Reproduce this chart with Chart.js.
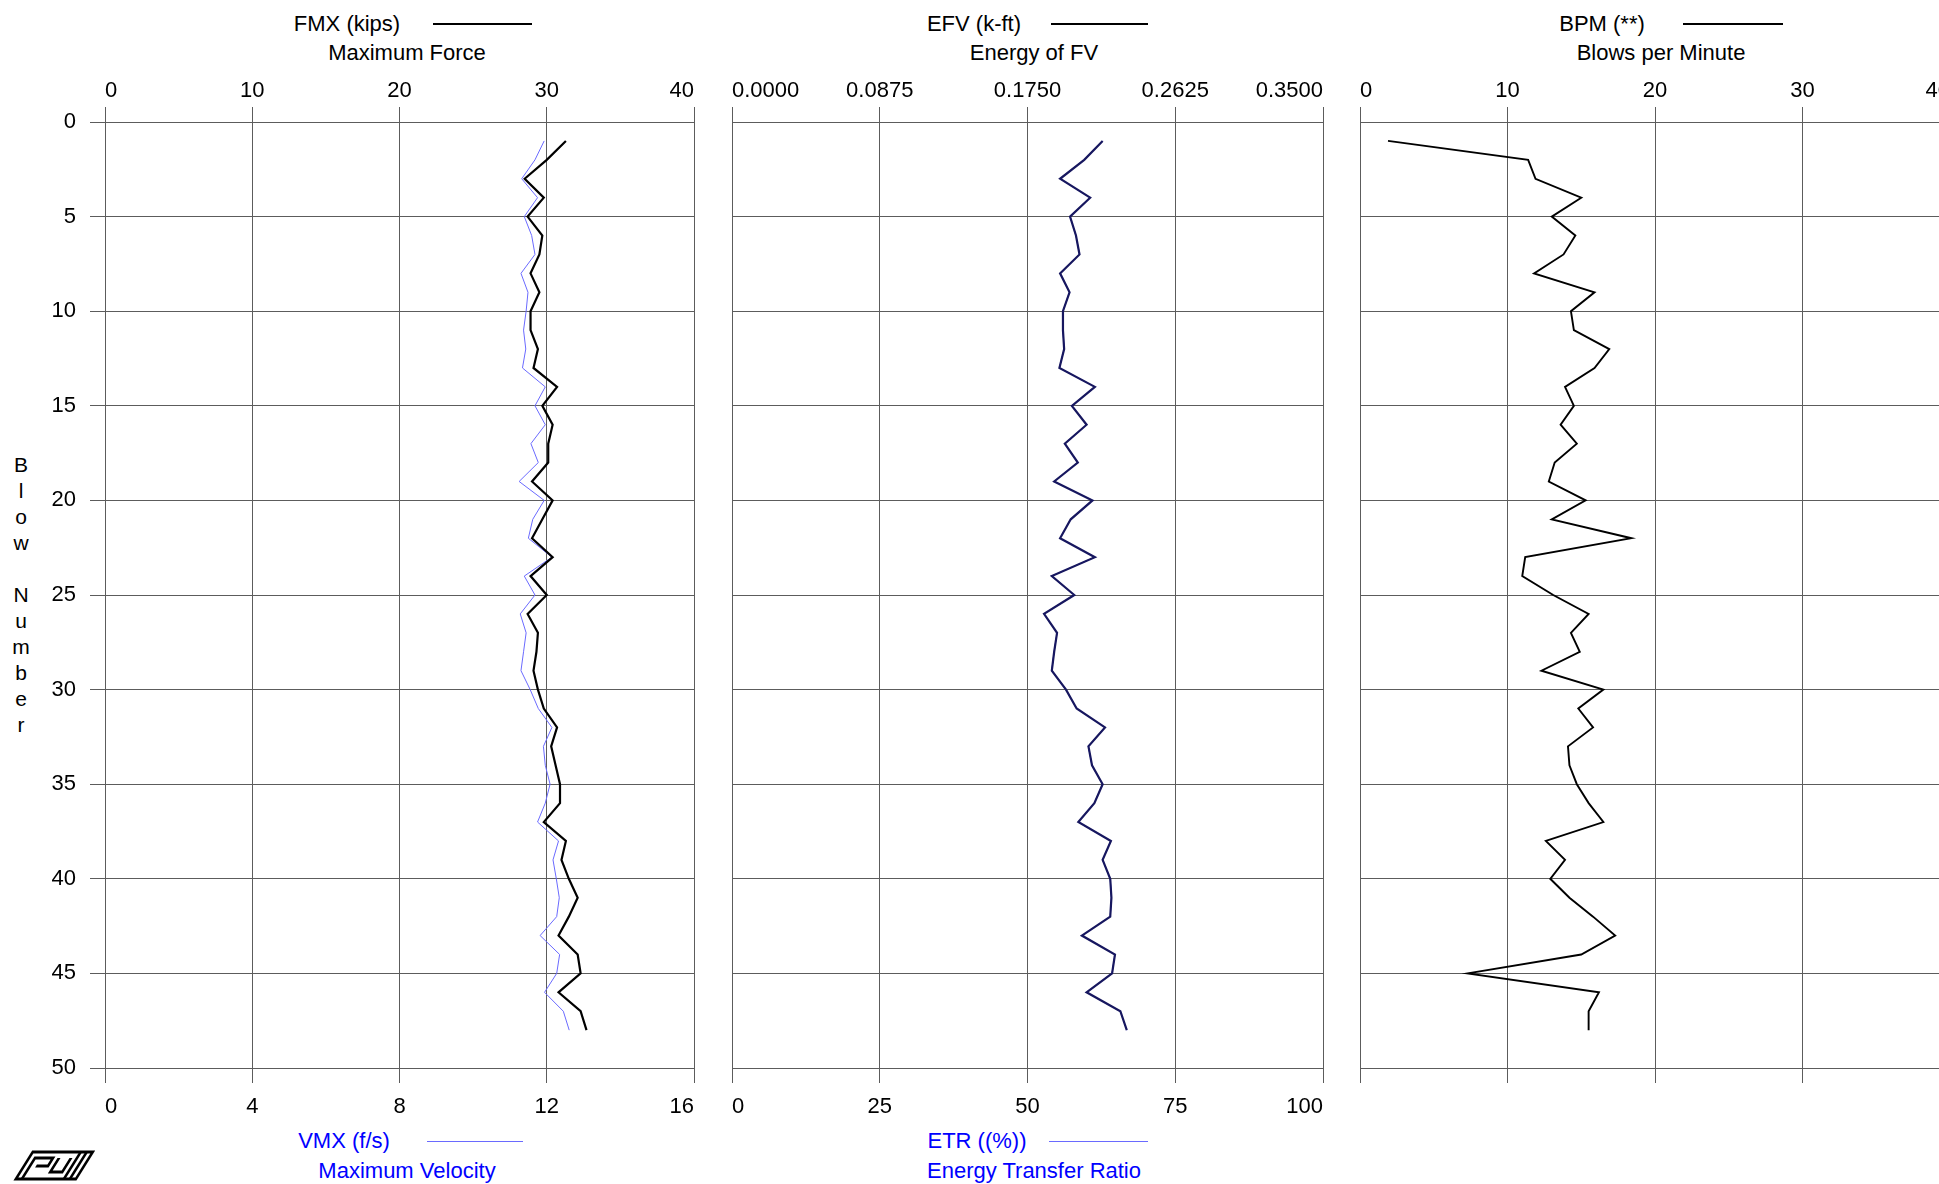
<!DOCTYPE html>
<html>
<head>
<meta charset="utf-8">
<script src="https://cdn.jsdelivr.net/npm/chart.js@4/dist/chart.umd.min.js"></script>
<style>
html, body { margin:0; padding:0; background:#fff; overflow:hidden; width:1939px; height:1184px; position:relative;
  font-family:"Liberation Sans", Arial, sans-serif; }
.panel { position:absolute; top:0; height:1184px; }
.txt { position:absolute; font-size:22px; white-space:nowrap; line-height:1; transform:translate(-50%,-50%); color:#000; }
.blue { color:#0000ff; }
.key { position:absolute; height:0; border-top:2px solid #000; }
.key.thin { border-top:1px solid #6a6aff; }
.ylab { position:absolute; left:21px; font-size:21px; line-height:26px; text-align:center; transform:translateX(-50%); top:452px; }
</style>
</head>
<body>

<!-- headers -->
<div class="txt" style="left:347px;top:24px">FMX (kips)</div>
<div class="key" style="left:433px;width:99px;top:23px"></div>
<div class="txt" style="left:407px;top:53px">Maximum Force</div>

<div class="txt" style="left:974px;top:24px">EFV (k-ft)</div>
<div class="key" style="left:1051px;width:97px;top:23px"></div>
<div class="txt" style="left:1034px;top:53px">Energy of FV</div>

<div class="txt" style="left:1602px;top:24px">BPM (**)</div>
<div class="key" style="left:1683px;width:100px;top:23px"></div>
<div class="txt" style="left:1661px;top:53px">Blows per Minute</div>

<!-- footers -->
<div class="txt blue" style="left:344px;top:1141px">VMX (f/s)</div>
<div class="key thin" style="left:427px;width:96px;top:1141px"></div>
<div class="txt blue" style="left:407px;top:1171px">Maximum Velocity</div>

<div class="txt blue" style="left:977px;top:1141px">ETR ((%))</div>
<div class="key thin" style="left:1049px;width:99px;top:1141px"></div>
<div class="txt blue" style="left:1034px;top:1171px">Energy Transfer Ratio</div>

<div class="ylab">B<br>l<br>o<br>w<br>&nbsp;<br>N<br>u<br>m<br>b<br>e<br>r</div>

<!-- logo -->
<svg width="90" height="36" style="position:absolute;left:12px;top:1148px">
  <g transform="translate(20,2) skewX(-32)" fill="none" stroke="#000" stroke-width="3">
    <rect x="2" y="2" width="60" height="27"/>
    <path d="M8 29 V8 H26 V16 H14"/>
    <path d="M32 8 V22 H44 V8"/>
    <path d="M50 2 V29 M56 2 V29"/>
  </g>
</svg>

<div class="panel" style="left:0px;width:720px"><canvas id="p1"></canvas></div>
<div class="panel" style="left:700px;width:640px"><canvas id="p2"></canvas></div>
<div class="panel" style="left:1340px;width:640px"><canvas id="p3"></canvas></div>

<script>
// ----- Data -----
const blowNumbers = [1,2,3,4,5,6,7,8,9,10,11,12,13,14,15,16,17,18,19,20,21,22,23,24,
  25,26,27,28,29,30,31,32,33,34,35,36,37,38,39,40,41,42,43,44,45,46,47,48];

const fmxValues = [31.3,30.0,28.5,29.8,28.7,29.7,29.5,28.9,29.5,28.9,
  28.9,29.4,29.1,30.7,29.7,30.4,30.1,30.1,29.0,30.4,
  29.7,29.0,30.4,28.9,30.0,28.7,29.4,29.3,29.1,29.4,
  29.8,30.7,30.3,30.6,30.9,30.9,29.8,31.3,31.0,31.5,
  32.1,31.5,30.8,32.1,32.3,30.8,32.3,32.7];

const vmxValues = [11.93,11.68,11.32,11.75,11.39,11.59,11.68,11.30,11.49,11.44,
  11.37,11.43,11.34,11.96,11.68,11.96,11.57,11.77,11.25,11.93,
  11.62,11.50,12.14,11.39,11.68,11.28,11.44,11.37,11.30,11.55,
  11.77,12.14,11.91,11.96,12.09,11.96,11.75,12.32,12.17,12.26,
  12.34,12.27,11.82,12.35,12.27,11.94,12.45,12.61];

const efvValues = [0.2195,0.2086,0.1943,0.2121,0.2002,0.2037,0.2058,0.1943,0.1999,0.1960,
  0.1960,0.1967,0.1939,0.2149,0.2013,0.2100,0.1971,0.2048,0.1908,0.2135,
  0.2006,0.1943,0.2149,0.1894,0.2027,0.1848,0.1925,0.1908,0.1894,0.1978,
  0.2041,0.2209,0.2111,0.2132,0.2195,0.2146,0.2051,0.2244,0.2195,0.2240,
  0.2247,0.2240,0.2072,0.2268,0.2251,0.2100,0.2300,0.2338];

const etrValues = [62.7,59.6,55.5,60.6,57.2,58.2,58.8,55.5,57.1,56.0,
  56.0,56.2,55.4,61.4,57.5,60.0,56.3,58.5,54.5,61.0,
  57.3,55.5,61.4,54.1,57.9,52.8,55.0,54.5,54.1,56.5,
  58.3,63.1,60.3,60.9,62.7,61.3,58.6,64.1,62.7,64.0,
  64.2,64.0,59.2,64.8,64.3,60.0,65.7,66.8];

const bpmValues = [1.9,11.4,11.9,15.0,13.0,14.6,13.8,11.8,15.9,14.3,
  14.5,16.9,15.9,13.9,14.5,13.6,14.7,13.2,12.8,15.3,
  13.0,18.4,11.2,11.0,13.1,15.5,14.3,14.9,12.3,16.5,
  14.8,15.8,14.1,14.2,14.7,15.5,16.5,12.6,13.9,12.9,
  14.2,15.8,17.3,15.0,7.3,16.2,15.5,15.5];

const blowTicks = [0,5,10,15,20,25,30,35,40,45,50];
const fmxTicks = [0,10,20,30,40];
const vmxTicks = [0,4,8,12,16];
const efvTicks = [0,0.0875,0.175,0.2625,0.35];
const etrTicks = [0,25,50,75,100];
const bpmTicks = [0,10,20,30,40];

// ----- Chart setup -----
Chart.defaults.font.family = '"Liberation Sans", Arial, sans-serif';
Chart.defaults.font.size = 22;
Chart.defaults.color = '#000';

const GRID = '#5c5c5c';
const TOP_H = 122;      // canvas top -> chart area top
const BOTTOM_H = 116;   // chart area bottom -> canvas bottom

const pts = (vals) => vals.map((v, i) => ({ x: v, y: blowNumbers[i] }));

const xAxis = (pos, ticks, showLabels, fmt) => ({
  type: 'linear',
  position: pos,
  min: ticks[0],
  max: ticks[ticks.length - 1],
  afterBuildTicks: (s) => { s.ticks = ticks.map(v => ({ value: v })); },
  afterFit: (s) => { s.height = pos === 'top' ? TOP_H : BOTTOM_H; },
  grid: { color: GRID, lineWidth: 1, tickLength: 15, drawTicks: true, drawOnChartArea: pos === 'top' },
  border: { display: false },
  ticks: {
    display: showLabels, align: 'inner', maxRotation: 0, padding: pos === 'top' ? 3 : 11,
    callback: fmt || ((v) => String(v))
  }
});

const yAxis = (leftWidth, showLabels) => ({
  type: 'linear',
  reverse: true,
  min: 0,
  max: 50,
  afterBuildTicks: (s) => { s.ticks = blowTicks.map(v => ({ value: v })); },
  afterFit: (s) => { s.width = leftWidth; },
  grid: { color: GRID, lineWidth: 1, tickLength: 15, drawTicks: showLabels },
  border: { display: false },
  ticks: { display: showLabels, padding: 14 }
});

const line = (data, axis, color, width) => ({
  data: pts(data), xAxisID: axis, yAxisID: 'y',
  showLine: true, borderColor: color, backgroundColor: color, borderWidth: width,
  pointRadius: 0, fill: false, tension: 0
});

const makeChart = (id, datasets, scales, rightPad) => new Chart(document.getElementById(id), {
  type: 'scatter',
  data: { datasets },
  options: {
    responsive: true,
    maintainAspectRatio: false,
    animation: false,
    layout: { padding: { left: 0, right: rightPad, top: 0, bottom: 0 } },
    plugins: { legend: { display: false }, tooltip: { enabled: false } },
    scales
  }
});

// panel 1: force / velocity
makeChart('p1', [
  line(fmxValues, 'xt', '#000000', 2.2),
  line(vmxValues, 'xb', '#6a6aff', 1)
], {
  xt: xAxis('top', fmxTicks, true),
  xb: xAxis('bottom', vmxTicks, true),
  y: yAxis(105, true)
}, 26);

// panel 2: energy
makeChart('p2', [
  line(efvValues, 'xt', '#17175f', 2.2),
  line(etrValues, 'xb', '#0000ff', 1)
], {
  xt: xAxis('top', efvTicks, true, (v) => v.toFixed(4)),
  xb: xAxis('bottom', etrTicks, true),
  y: yAxis(32, false)
}, 17);

// panel 3: blows per minute (runs past the right edge)
makeChart('p3', [
  line(bpmValues, 'xt', '#000000', 1.9)
], {
  xt: xAxis('top', bpmTicks, true),
  xb: xAxis('bottom', bpmTicks, false),
  y: yAxis(20, false)
}, 30);
</script>
</body>
</html>
